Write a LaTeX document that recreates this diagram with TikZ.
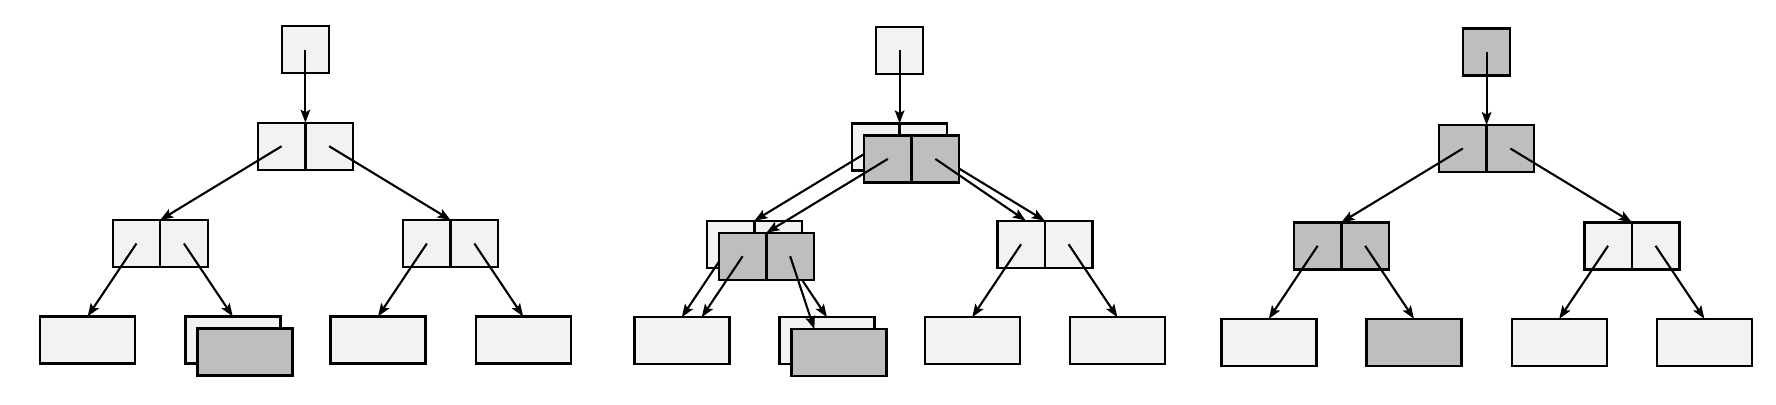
\documentclass[tikz,border=0pt]{standalone}
\usetikzlibrary{arrows.meta,calc}
\definecolor{lightc}{RGB}{242,242,242}
\definecolor{darkc}{RGB}{190,190,190}
\tikzset{
  cellbox/.style={draw=black, line width=1.2pt, minimum width=23.75pt, minimum height=23.5pt, inner sep=0pt, outer sep=0pt},
  rootbox/.style={cellbox, minimum width=23.5pt},
  leafbox/.style={draw=black, line width=1.2pt, minimum width=47.5pt, minimum height=23.5pt, inner sep=0pt, outer sep=0pt},
  lt/.style={fill=lightc},
  dk/.style={fill=darkc},
  ptr/.style={-{Stealth[length=6.5pt,width=4.8pt,inset=1.3pt]}, line width=1.05pt},
}
\begin{document}
\begin{tikzpicture}[x=0.5pt,y=-0.5pt]
\path[use as bounding box] (0,0) rectangle (1776,404);

% ---------------- Panel 1 ----------------
\begin{scope}[shift={(305.4,0)}]
\node[rootbox,lt] (p1r) at (0,49.5) {};
\node[cellbox,lt] (p1ml) at (-23.75,146.2) {};
\node[cellbox,lt] (p1mr) at (23.75,146.2) {};
\node[cellbox,lt] (p1al) at (-168.95,243.5) {};
\node[cellbox,lt] (p1ar) at (-121.45,243.5) {};
\node[cellbox,lt] (p1bl) at (121.45,243.5) {};
\node[cellbox,lt] (p1br) at (168.95,243.5) {};
\node[leafbox,lt] (p1la) at (-217.8,340) {};
\node[leafbox,lt] (p1lb) at (-72.6,340) {};
\node[leafbox,lt] (p1lc) at (72.6,340) {};
\node[leafbox,lt] (p1ld) at (217.8,340) {};
\draw[ptr] (p1r.center) -- (p1ml.north east);
\draw[ptr] (p1ml.center) -- (p1al.north east);
\draw[ptr] (p1mr.center) -- (p1bl.north east);
\draw[ptr] (p1al.center) -- (p1la.north);
\draw[ptr] (p1ar.center) -- (p1lb.north);
\draw[ptr] (p1bl.center) -- (p1lc.north);
\draw[ptr] (p1br.center) -- (p1ld.north);
\node[leafbox,dk] (p1lbf) at (-60.6,352) {};
\end{scope}

% ---------------- Panel 2 ----------------
\begin{scope}[shift={(899.6,0.7)}]
\node[rootbox,lt] (p2r) at (0,49.5) {};
\node[cellbox,lt] (p2ml) at (-23.75,146.2) {};
\node[cellbox,lt] (p2mr) at (23.75,146.2) {};
\node[cellbox,lt] (p2al) at (-168.95,243.5) {};
\node[cellbox,lt] (p2ar) at (-121.45,243.5) {};
\node[cellbox,lt] (p2bl) at (121.45,243.5) {};
\node[cellbox,lt] (p2br) at (168.95,243.5) {};
\node[leafbox,lt] (p2la) at (-217.8,340) {};
\node[leafbox,lt] (p2lb) at (-72.6,340) {};
\node[leafbox,lt] (p2lc) at (72.6,340) {};
\node[leafbox,lt] (p2ld) at (217.8,340) {};
\draw[ptr] (p2r.center) -- (p2ml.north east);
\draw[ptr] (p2ml.center) -- (p2al.north east);
\draw[ptr] (p2mr.center) -- (p2bl.north east);
\draw[ptr] (p2al.center) -- (p2la.north);
\draw[ptr] (p2ar.center) -- (p2lb.north);
\draw[ptr] (p2bl.center) -- (p2lc.north);
\draw[ptr] (p2br.center) -- (p2ld.north);
% new (shadow) copies
\node[cellbox,dk] (p2fml) at (-11.75,158.2) {};
\node[cellbox,dk] (p2fmr) at (35.75,158.2) {};
\node[cellbox,dk] (p2fal) at (-156.95,255.5) {};
\node[cellbox,dk] (p2far) at (-109.45,255.5) {};
\node[leafbox,dk] (p2flb) at (-60.6,352) {};
\draw[ptr] (p2fml.center) -- (p2fal.north east);
\draw[ptr] (p2fmr.center) -- ($(p2bl.north west)!0.3!(p2br.north east)$);
\draw[ptr] (p2fal.center) -- ($(p2la.north west)!0.71!(p2la.north east)$);
\draw[ptr] (p2far.center) -- ($(p2flb.north west)!0.24!(p2flb.north east)$);
\end{scope}

% ---------------- Panel 3 ----------------
\begin{scope}[shift={(1486.6,2.3)}]
\node[rootbox,dk] (p3r) at (0,49.5) {};
\node[cellbox,dk] (p3ml) at (-23.75,146.2) {};
\node[cellbox,dk] (p3mr) at (23.75,146.2) {};
\node[cellbox,dk] (p3al) at (-168.95,243.5) {};
\node[cellbox,dk] (p3ar) at (-121.45,243.5) {};
\node[cellbox,lt] (p3bl) at (121.45,243.5) {};
\node[cellbox,lt] (p3br) at (168.95,243.5) {};
\node[leafbox,lt] (p3la) at (-217.8,340) {};
\node[leafbox,dk] (p3lb) at (-72.6,340) {};
\node[leafbox,lt] (p3lc) at (72.6,340) {};
\node[leafbox,lt] (p3ld) at (217.8,340) {};
\draw[ptr] (p3r.center) -- (p3ml.north east);
\draw[ptr] (p3ml.center) -- (p3al.north east);
\draw[ptr] (p3mr.center) -- (p3bl.north east);
\draw[ptr] (p3al.center) -- (p3la.north);
\draw[ptr] (p3ar.center) -- (p3lb.north);
\draw[ptr] (p3bl.center) -- (p3lc.north);
\draw[ptr] (p3br.center) -- (p3ld.north);
\end{scope}
\end{tikzpicture}
\end{document}
